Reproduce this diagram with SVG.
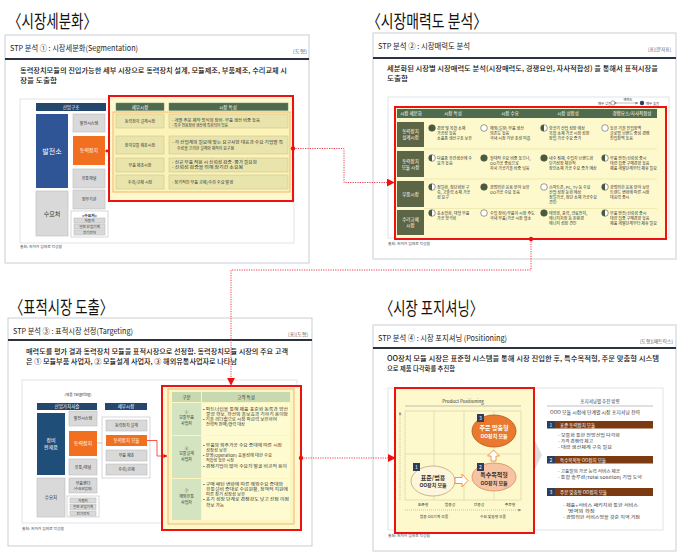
<svg xmlns="http://www.w3.org/2000/svg" width="678" height="553" viewBox="0 0 678 553">
<style>
text{font-family:"Noto Sans CJK KR","Noto Sans",sans-serif;}
.title{font-size:18px;fill:#111;}
.hd{font-size:8px;fill:#222;}
.tag{font-size:4.3px;fill:#555;}
.desc{font-size:7px;fill:#111;font-weight:500;}
.src{font-size:3.8px;fill:#444;}
.card{fill:#fff;stroke:#c9cdd5;stroke-width:1;}
.rule{stroke:#2b3343;stroke-width:2;}
.inner{fill:#fff;stroke:#d9dce2;stroke-width:0.8;}
.redbox{fill:#fdf9cc;stroke:#ee1111;stroke-width:2;}
.gbox{fill:#d9d9d9;stroke:#bdbdbd;stroke-width:0.6;}
.navy{fill:#24476b;}
.org{fill:#f07020;}
.wbox{fill:#fff;stroke:#bdbdbd;stroke-width:0.6;}
.c{text-anchor:middle;}
.wt{fill:#fff;}
.dk{fill:#333;}
.s4{font-size:4px;}
.s45{font-size:4.5px;}
.s5{font-size:5px;}
.s6{font-size:6px;}
.s7{font-size:7px;}
.gh{fill:#4e6b50;stroke:#6f8a70;stroke-width:0.5;}
.row{fill:#e8e4ac;stroke:#cfc790;stroke-width:0.6;}
.lab{fill:#5c6647;}
.cell{font-size:4px;fill:#333;}
.tg{fill:#d4e4c0;}
.ty{fill:#fefbd0;}
.tt{font-size:4px;fill:#333;}
.bar{fill:#7b3a12;}
.num{fill:#2c3e5c;}
.grid{stroke:#c9c4a0;stroke-width:0.5;fill:none;}
.dot{fill:none;stroke:#e8283c;stroke-width:0.9;stroke-dasharray:1.2 1.2;}
</style>
<defs>
<g id="hbE"><circle r="3.3" fill="#fff" stroke="#555" stroke-width="0.6"/></g>
<g id="hbF"><circle r="3.3" fill="#4a5a40" stroke="#4a5a40" stroke-width="0.6"/></g>
<g id="hbH"><circle r="3.3" fill="#fff" stroke="#555" stroke-width="0.6"/><path d="M0,-3.3 A3.3,3.3 0 0 0 0,3.3 Z" fill="#4a5a40"/></g>
<marker id="ah" viewBox="0 0 10 10" refX="9" refY="5" markerWidth="8" markerHeight="8" orient="auto" markerUnits="userSpaceOnUse"><path d="M0,0 L10,5 L0,10 Z" fill="#ee1111"/></marker>
<marker id="ahs" viewBox="0 0 10 10" refX="9" refY="5" markerWidth="4" markerHeight="4" orient="auto" markerUnits="userSpaceOnUse"><path d="M0,0 L10,5 L0,10 Z" fill="#ee1111"/></marker>
<marker id="ahg" viewBox="0 0 10 10" refX="9" refY="5" markerWidth="3" markerHeight="3" orient="auto" markerUnits="userSpaceOnUse"><path d="M0,0 L10,5 L0,10 Z" fill="#888"/></marker>
</defs>
<rect width="678" height="553" fill="#fff"/>

<!-- Panel 1 -->
<g id="panel-segmentation">
<text class="title" x="8" y="28" textLength="89" lengthAdjust="spacingAndGlyphs">〈시장세분화〉</text>
<rect class="card" x="5" y="35" width="304" height="228"/>
<text class="hd" x="10" y="51" textLength="128" lengthAdjust="spacingAndGlyphs">STP 분석 ① : 시장세분화(Segmentation)</text>
<text class="tag" x="293" y="53" textLength="14" lengthAdjust="spacingAndGlyphs">[도형]</text>
<line class="rule" x1="5" y1="59" x2="309" y2="59"/>
<text class="desc" x="20" y="73" textLength="267" lengthAdjust="spacingAndGlyphs">동력장치모듈의 진입가능한 세부 시장으로 동력장치 설계, 모듈제조, 부품제조, 수리교체 시</text>
<text class="desc" x="20" y="83" textLength="37" lengthAdjust="spacingAndGlyphs">장을 도출함</text>
<rect class="inner" x="20" y="99" width="274" height="144"/>
<text class="src" x="20" y="248" textLength="42" lengthAdjust="spacingAndGlyphs">출처: 저자가 임의로 작성함</text>
</g>
<g id="seg-industry">
<rect class="navy" x="36" y="103" width="70" height="8"/>
<text class="s45 wt c" x="71" y="108.6">산업구조</text>
<rect x="36" y="114" width="32" height="74" fill="#2f5597"/>
<text class="s7 wt c" x="52" y="153.5">발전소</text>
<rect class="gbox" x="73" y="114" width="32" height="18"/>
<text class="s4 dk c" x="89" y="124.5">발전시스템</text>
<rect class="org" x="73" y="136" width="32" height="29"/>
<text class="s5 wt c" x="89" y="152">동력장치</text>
<rect class="gbox" x="73" y="169" width="32" height="19"/>
<text class="s4 dk c" x="89" y="180">유통채널</text>
<rect class="gbox" x="36" y="191" width="32" height="45"/>
<text class="s6 dk c" x="52" y="215.5">수요처</text>
<rect class="gbox" x="73" y="190" width="32" height="19"/>
<text class="s4 dk c" x="89" y="201">정부기관</text>
<rect class="wbox" x="71" y="211" width="37" height="26"/>
<text class="dk c" x="89.5" y="216.5" style="font-size:3.8px;font-weight:bold">&lt;수요처&gt;</text>
<rect class="gbox" x="74" y="218" width="31" height="5"/>
<text class="dk c" x="89.5" y="221.9" style="font-size:3.6px">자동차</text>
<rect class="gbox" x="74" y="224" width="31" height="5"/>
<text class="dk c" x="89.5" y="227.9" style="font-size:3.6px">일반 산업기계</text>
<rect class="gbox" x="74" y="230" width="31" height="5"/>
<text class="dk c" x="89.5" y="233.9" style="font-size:3.6px">전기전자</text>
</g>
<g id="seg-submarkets">
<rect class="redbox" x="109" y="96" width="184" height="105"/>
<rect class="gh" x="116" y="103" width="48" height="7.5"/>
<text class="s45 wt c" x="140" y="108.6">세부시장</text>
<rect class="gh" x="169" y="103" width="119" height="7.5"/>
<text class="s45 wt c" x="228" y="108.6">시장 특성</text>
<rect x="113" y="112" width="177" height="80" fill="#fbf3b8" stroke="#f5b36b" stroke-width="1"/>
<rect class="row" x="116" y="114" width="48" height="14"/>
<rect class="row" x="169" y="114" width="119" height="14"/>
<text class="s4 dk c" x="140" y="122.5">동력장치 설계시장</text>
<text class="s4 dk" x="172" y="122" textLength="88" lengthAdjust="spacingAndGlyphs">-  개별 주문 제작 방식의 장비·부품 생산 비중 높음</text>
<text class="s4 dk" x="172" y="127.3" textLength="56" lengthAdjust="spacingAndGlyphs">-  특수 전용장비 생산에 특화되어 있음</text>
<rect class="row" x="116" y="136" width="48" height="18"/>
<rect class="row" x="169" y="136" width="119" height="18"/>
<text class="s4 dk c" x="140" y="146.5">장치모듈 제조시장</text>
<text class="s4 dk" x="172" y="144.3" textLength="111" lengthAdjust="spacingAndGlyphs">-  각 산업계의 필요에 맞는 요구사항 대응과 수요 기업별 특</text>
<text class="s4 dk" x="177" y="149.8" textLength="57" lengthAdjust="spacingAndGlyphs">수성을 고려한 설계와 제작이 요구됨</text>
<rect class="row" x="116" y="158" width="48" height="14"/>
<rect class="row" x="169" y="158" width="119" height="14"/>
<text class="s4 dk c" x="140" y="166.5">부품 제조시장</text>
<text class="s4 dk" x="172" y="164" textLength="85" lengthAdjust="spacingAndGlyphs">-  신규 부품 적용 시 신뢰성 검증·평가 필요함</text>
<text class="s4 dk" x="172" y="169.3" textLength="71" lengthAdjust="spacingAndGlyphs">-  신뢰성 검증을 위해 장기간 소요됨</text>
<rect class="row" x="116" y="175" width="48" height="14"/>
<rect class="row" x="169" y="175" width="119" height="14"/>
<text class="s4 dk c" x="140" y="183.5">수리/교체 시장</text>
<text class="s4 dk" x="172" y="183.5" textLength="61" lengthAdjust="spacingAndGlyphs">-  정기적인 부품 교체/수리 수요 발생</text>
</g>

<!-- Panel 2 -->
<g id="panel-attractiveness">
<text class="title" x="367" y="28" textLength="120" lengthAdjust="spacingAndGlyphs">〈시장매력도 분석〉</text>
<rect class="card" x="373" y="33" width="303" height="226"/>
<text class="hd" x="378" y="49" textLength="92" lengthAdjust="spacingAndGlyphs">STP 분석 ② : 시장매력도 분석</text>
<text class="tag" x="648" y="51" textLength="23" lengthAdjust="spacingAndGlyphs">[표][문자표]</text>
<line class="rule" x1="373" y1="58" x2="676" y2="58"/>
<text class="desc" x="387" y="71" textLength="271" lengthAdjust="spacingAndGlyphs">세분화된 시장별 시장매력도 분석(시장매력도, 경쟁요인, 자사적합성) 을 통해서 표적시장을</text>
<text class="desc" x="387" y="81" textLength="21" lengthAdjust="spacingAndGlyphs">도출함</text>
<rect class="inner" x="388" y="97" width="281" height="141"/>
<text class="src" x="388" y="245" textLength="42" lengthAdjust="spacingAndGlyphs">출처: 저자가 임의로 작성함</text>
<text class="dk" x="598" y="104.5" style="font-size:3.4px">매우 낮음</text>
<circle cx="613" cy="103" r="2.2" fill="#fff" stroke="#555" stroke-width="0.5"/>
<line x1="617" y1="103" x2="638" y2="103" stroke="#555" stroke-width="0.4" marker-start="url(#ahg)" marker-end="url(#ahg)"/>
<text class="dk c" x="628" y="100.5" style="font-size:3.2px">매력도</text>
<circle cx="642" cy="103" r="2.2" fill="#2d3f5c"/>
<text class="dk" x="646" y="104.5" style="font-size:3.4px">매우 높음</text>
</g>
<g id="attr-table">
<rect class="redbox" x="395" y="107" width="271" height="132"/>
<rect x="397" y="109" width="260" height="9" fill="#4f6b4f"/>
<text class="s45 wt c" x="411" y="115.3">시장 세분화</text>
<text class="s45 wt c" x="453" y="115.3">시장 특성</text>
<text class="s45 wt c" x="510" y="115.3">시장 수요</text>
<text class="s45 wt c" x="568" y="115.3">시장 성장성</text>
<text class="s45 wt c" x="632" y="115.3">경쟁요소/자사적합성</text>
<g stroke="#e6df9c" stroke-width="0.6"><line x1="424" y1="149" x2="657" y2="149"/><line x1="424" y1="179" x2="657" y2="179"/><line x1="424" y1="208.5" x2="657" y2="208.5"/></g>
<rect class="lab" x="397" y="122" width="27" height="25"/>
<text class="s45 wt c" x="410.5" y="133">동력장치</text><text class="s45 wt c" x="410.5" y="139">설계시장</text>
<rect class="lab" x="397" y="151" width="27" height="26"/>
<text class="s45 wt c" x="410.5" y="162.5">동력장치</text><text class="s45 wt c" x="410.5" y="168.5">모듈 시장</text>
<rect class="lab" x="397" y="181" width="27" height="26"/>
<text class="s45 wt c" x="410.5" y="195.5">부품시장</text>
<rect class="lab" x="397" y="210" width="27" height="25"/>
<text class="s45 wt c" x="410.5" y="221">수리교체</text><text class="s45 wt c" x="410.5" y="227">시장</text>
<use href="#hbF" x="432" y="128"/><use href="#hbE" x="484" y="128"/><use href="#hbH" x="544" y="128"/><use href="#hbE" x="605" y="128"/>
<text class="cell" x="437" y="129.5">경량 및 복합 소재</text><text class="cell" x="437" y="134.5">가공성 높음</text><text class="cell" x="437" y="139.5">소품종 생산구조 보유</text>
<text class="cell" x="490" y="129.5">해외(일본) 부품 생산</text><text class="cell" x="490" y="134.5">의존도 높음</text><text class="cell" x="490" y="139.5">국내 시장 기반 조성 미흡</text>
<text class="cell" x="549" y="129.5">항공기 산업 성장 예상</text><text class="cell" x="549" y="134.5">복합 소재 가공 시장 성장</text><text class="cell" x="549" y="139.5">장입 가공 수요 증가</text>
<text class="cell" x="610" y="129.5">높은 기술 진입장벽</text><text class="cell" x="610" y="134.5">글로벌 브랜드 중심 경쟁</text><text class="cell" x="610" y="139.5">진입장벽 높음</text>
<use href="#hbH" x="432" y="158"/><use href="#hbF" x="484" y="158"/><use href="#hbF" x="544" y="158"/><use href="#hbH" x="605" y="158"/>
<text class="cell" x="437" y="159.5">다품종 유연생산에 수</text><text class="cell" x="437" y="164.5">요가 높음</text>
<text class="cell" x="490" y="159.5">절대적 수요 비중 높으나,</text><text class="cell" x="490" y="164.5">OO가공 중심으로</text><text class="cell" x="490" y="169.5">자사 가공기술 비중 낮음</text>
<text class="cell" x="549" y="159.5">내수 침체, 수입차 브랜드화</text><text class="cell" x="549" y="164.5">단기성장 제한적</text><text class="cell" x="549" y="169.5">장인소재 가공 수요 증가 예상</text>
<text class="cell" x="610" y="159.5">부품 안전/신뢰성 중시</text><text class="cell" x="610" y="164.5">대량 집중 구매경향 높음</text><text class="cell" x="610" y="169.5">제품 개발단계부터 제휴 필요</text>
<use href="#hbH" x="432" y="187"/><use href="#hbF" x="484" y="187"/><use href="#hbE" x="544" y="187"/><use href="#hbH" x="605" y="187"/>
<text class="cell" x="437" y="188.5">정밀화, 첨단화된 구</text><text class="cell" x="437" y="193.5">축, 고출력 소재 가공</text><text class="cell" x="437" y="198.5">성 요구</text>
<text class="cell" x="490" y="188.5">광범위한 응용 분야 보유</text><text class="cell" x="490" y="193.5">OO가공 수요 높음</text>
<text class="cell" x="549" y="188.5">스마트폰, PC, TV 등 수요</text><text class="cell" x="549" y="193.5">산업 성장 둔화 예상</text><text class="cell" x="549" y="198.5">정밀가공, 첨단 소재 가공수요</text><text class="cell" x="549" y="203.5">견인</text>
<text class="cell" x="610" y="188.5">광범위한 응용 분야 보유</text><text class="cell" x="610" y="193.5">트렌드 변화에 따른 시장</text><text class="cell" x="610" y="198.5">대응력 중시</text>
<use href="#hbH" x="432" y="213"/><use href="#hbE" x="484" y="213"/><use href="#hbF" x="544" y="213"/><use href="#hbH" x="605" y="213"/>
<text class="cell" x="437" y="214.5">초소형화, 대형 부품</text><text class="cell" x="437" y="219.5">가공 양극화</text>
<text class="cell" x="490" y="214.5">수입 장비/부품이 시장 주도</text><text class="cell" x="490" y="219.5">국내 부품/가공 시장 협소</text>
<text class="cell" x="549" y="214.5">태양광, 풍력, 연료전지,</text><text class="cell" x="549" y="219.5">에너지저장 등 친환경</text><text class="cell" x="549" y="224.5">에너지 성장 견인</text>
<text class="cell" x="610" y="214.5">부품 안전/신뢰성 중시</text><text class="cell" x="610" y="219.5">대량 집중 구매경향 높음</text><text class="cell" x="610" y="224.5">제품 개발단계부터 제휴 필요</text>
</g>

<!-- Panel 3 -->
<g id="panel-targeting">
<text class="title" x="10" y="314" textLength="103" lengthAdjust="spacingAndGlyphs">〈표적시장 도출〉</text>
<rect class="card" x="8" y="318" width="304" height="228"/>
<text class="hd" x="13" y="334" textLength="120" lengthAdjust="spacingAndGlyphs">STP 분석 ③ : 표적시장 선정(Targeting)</text>
<text class="tag" x="288" y="336" textLength="20" lengthAdjust="spacingAndGlyphs">[표][도형]</text>
<line class="rule" x1="8" y1="340" x2="312" y2="340"/>
<text class="desc" x="26" y="354" textLength="262" lengthAdjust="spacingAndGlyphs">매력도를 평가 결과 동력장치 모듈을 표적시장으로 선정함. 동력장치모듈 시장의 주요 고객</text>
<text class="desc" x="26" y="364" textLength="211" lengthAdjust="spacingAndGlyphs">은 ① 모듈부품 사업자, ② 모듈설계 사업자, ③ 해외유통사업자로 나타남</text>
<rect class="inner" x="22" y="380" width="275" height="143"/>
<text class="src" x="22" y="530" textLength="42" lengthAdjust="spacingAndGlyphs">출처: 저자가 임의로 작성함</text>
</g>
<g id="tgt-valuechain">
<text class="dk c" x="78" y="395.5" style="font-size:3.8px">(제품 Targeting)</text>
<rect class="navy" x="37" y="403" width="60" height="7"/>
<text class="s45 wt c" x="67" y="408.2">산업가치사슬</text>
<rect x="37" y="413" width="28" height="62" fill="#1f4e79"/>
<text class="s5 wt c" x="51" y="442">장비</text><text class="s5 wt c" x="51" y="448.5">완제품</text>
<rect class="gbox" x="69" y="411" width="28" height="15"/>
<text class="s4 dk c" x="83" y="420">발전시스템</text>
<rect class="org" x="69" y="431" width="28" height="25"/>
<text class="s5 wt c" x="83" y="445">동력장치</text>
<rect class="gbox" x="69" y="459" width="28" height="16"/>
<text class="s4 dk c" x="83" y="468.5">유통/채널</text>
<rect class="gbox" x="37" y="478" width="28" height="39"/>
<text class="s45 dk c" x="51" y="499">수요처</text>
<rect class="gbox" x="69" y="478" width="28" height="15"/>
<text class="s4 dk c" x="83" y="484.5">부품벤더</text><text class="dk c" x="83" y="490" style="font-size:3.5px">(수요산업체)</text>
<rect class="wbox" x="67" y="496" width="32" height="21"/>
<rect class="gbox" x="70" y="498" width="26" height="5"/>
<text class="dk c" x="83" y="501.9" style="font-size:3.5px">자동차</text>
<rect class="gbox" x="70" y="504.5" width="26" height="5"/>
<text class="dk c" x="83" y="508.4" style="font-size:3.5px">일반 산업기계</text>
<rect class="gbox" x="70" y="511" width="26" height="5"/>
<text class="dk c" x="83" y="514.9" style="font-size:3.5px">전기전자</text>
</g>
<g id="tgt-submarkets">
<rect class="navy" x="105" y="403" width="42" height="7"/>
<text class="s45 wt c" x="126" y="408.2">세부시장</text>
<rect class="wbox" x="102" y="417" width="48" height="61"/>
<rect class="gbox" x="106" y="420" width="41" height="11"/>
<text class="s4 dk c" x="126.5" y="427">동력장치 설계</text>
<rect class="org" x="106" y="435" width="41" height="11"/>
<text class="s45 wt c" x="126.5" y="442">동력장치 모듈</text>
<rect class="gbox" x="106" y="450" width="41" height="11"/>
<text class="s4 dk c" x="126.5" y="457">부품 제조</text>
<rect class="gbox" x="106" y="464" width="41" height="11"/>
<text class="s4 dk c" x="126.5" y="471">수리/교체</text>
</g>
<g id="tgt-table">
<rect class="redbox" x="162" y="386" width="139" height="144"/>
<rect x="168" y="389" width="126" height="135" fill="#fcf5c0" stroke="#f4a460" stroke-width="0.8"/>
<rect x="172" y="392" width="29" height="10" fill="#c6d9b0"/>
<rect x="202" y="392" width="88" height="10" fill="#c6d9b0"/>
<text class="s45 dk c" x="186.5" y="398.8">구분</text>
<text class="s45 dk c" x="246" y="398.8">고객 특성</text>
<rect class="tg" x="172" y="403" width="29" height="32"/>
<rect class="ty" x="202" y="403" width="88" height="32"/>
<rect class="tg" x="172" y="436" width="29" height="42"/>
<rect class="ty" x="202" y="436" width="88" height="42"/>
<rect class="tg" x="172" y="479" width="29" height="41"/>
<rect class="ty" x="202" y="479" width="88" height="41"/>
<text class="tt c" x="186.5" y="413.5">①</text><text class="tt c" x="186.5" y="419">모듈부품</text><text class="tt c" x="186.5" y="424.5">사업자</text>
<text class="tt c" x="186.5" y="449.5">②</text><text class="tt c" x="186.5" y="455">모듈설계</text><text class="tt c" x="186.5" y="460.5">사업자</text>
<text class="tt c" x="186.5" y="491.5">③</text><text class="tt c" x="186.5" y="497.5">해외유통</text><text class="tt c" x="186.5" y="503.5">사업자</text>
<text class="tt" x="203" y="410.5" textLength="85" lengthAdjust="spacingAndGlyphs">• 파트너십을 통해 제품 표준화 동록과 양산</text>
<text class="tt" x="206" y="415.5" textLength="82" lengthAdjust="spacingAndGlyphs">물량 확보, 확산의 홍보효과 기하기 용이함</text>
<text class="tt" x="203" y="420.5" textLength="74" lengthAdjust="spacingAndGlyphs">• 기술 리더쉽으로 시장 파급력 보유하여</text>
<text class="tt" x="206" y="425.5" textLength="39" lengthAdjust="spacingAndGlyphs">전략적 판매/협력 대상</text>
<text class="tt" x="203" y="447" textLength="79" lengthAdjust="spacingAndGlyphs">• 부품의 외주가공 수요 증대에 따른 시장</text>
<text class="tt" x="206" y="452" textLength="21" lengthAdjust="spacingAndGlyphs">성장성 보유</text>
<text class="tt" x="203" y="457" textLength="69" lengthAdjust="spacingAndGlyphs">• 운영(Operation) 효율성에 대한 수요</text>
<text class="tt" x="206" y="462" textLength="28" lengthAdjust="spacingAndGlyphs">적합성 높은 시장</text>
<text class="tt" x="203" y="467.5" textLength="84" lengthAdjust="spacingAndGlyphs">• 경쟁기업이 많아 수요처 발굴 비교적 용이</text>
<text class="tt" x="203" y="486" textLength="80" lengthAdjust="spacingAndGlyphs">• 구매 패턴 변화에 따른 해외수요 증대와</text>
<text class="tt" x="206" y="491" textLength="82" lengthAdjust="spacingAndGlyphs">유통설비 증대로 수급원활, 정책적 지원에</text>
<text class="tt" x="206" y="496" textLength="39" lengthAdjust="spacingAndGlyphs">따른 장기 성장성 보유</text>
<text class="tt" x="203" y="501.3" textLength="86" lengthAdjust="spacingAndGlyphs">• 초기 성장 단계로 경쟁강도 낮고 선점 이점</text>
<text class="tt" x="206" y="506.5" textLength="18" lengthAdjust="spacingAndGlyphs">확보 가능</text>
</g>

<!-- Panel 4 -->
<g id="panel-positioning">
<text class="title" x="380" y="315" textLength="103" lengthAdjust="spacingAndGlyphs">〈시장 포지셔닝〉</text>
<rect class="card" x="373" y="325" width="303" height="226"/>
<text class="hd" x="378" y="341" textLength="129" lengthAdjust="spacingAndGlyphs">STP 분석 ④ : 시장 포지셔닝 (Positioning)</text>
<text class="tag" x="640" y="343" textLength="33" lengthAdjust="spacingAndGlyphs">[도형][매트릭스]</text>
<line class="rule" x1="373" y1="348" x2="676" y2="348"/>
<text class="desc" x="387" y="361" textLength="272" lengthAdjust="spacingAndGlyphs">OO장치 모듈 시장은 표준형 시스템을 통해 시장 진입한 후, 특수목적형, 주문 맞춤형 시스템</text>
<text class="desc" x="387" y="371" textLength="68" lengthAdjust="spacingAndGlyphs">으로 제품 다각화를 추진함</text>
<rect class="inner" x="388" y="388" width="275" height="142"/>
<text class="src" x="388" y="537" textLength="42" lengthAdjust="spacingAndGlyphs">출처: 저자가 임의로 작성함</text>
<polygon points="526,423 542,455 526,487" fill="#dedede"/>
</g>
<g id="pos-matrix">
<rect class="redbox" x="395" y="388" width="139" height="145"/>
<text class="s45 dk c" x="463" y="403">Product Positioning</text>
<line x1="405" y1="406" x2="521" y2="406" stroke="#999" stroke-width="0.6"/>
<rect class="grid" x="405" y="411" width="116" height="89"/>
<line class="grid" x1="434" y1="411" x2="434" y2="500"/>
<line class="grid" x1="464" y1="411" x2="464" y2="500"/>
<line class="grid" x1="494" y1="411" x2="494" y2="500"/>
<line class="grid" x1="405" y1="454" x2="521" y2="454"/>
<line x1="400" y1="500" x2="400" y2="412" stroke="#888" stroke-width="0.5" stroke-dasharray="1 1" marker-end="url(#ahg)"/>
<line x1="405" y1="510" x2="521" y2="510" stroke="#888" stroke-width="0.5" stroke-dasharray="1 1" marker-end="url(#ahg)"/>
<text class="dk c" x="423" y="506" style="font-size:3.8px">표준형</text>
<text class="dk c" x="450" y="506" style="font-size:3.8px">범용성</text>
<text class="dk c" x="479" y="506" style="font-size:3.8px">전용성</text>
<text class="dk c" x="510" y="506" style="font-size:3.8px">주문형</text>
<text class="dk c" x="434" y="518" style="font-size:3.8px">범용 OO기계 부품</text>
<text class="dk c" x="493" y="518" style="font-size:3.8px">수요 맞춤형 부품</text>
</g>
<g id="pos-node1">
<ellipse cx="433" cy="481" rx="22" ry="15" fill="#fdf5dc" stroke="#bda67a" stroke-width="0.8"/>
<text class="s6 dk c" x="433" y="479.5" style="font-weight:bold">표준/범용</text>
<text class="s5 dk c" x="433" y="486.5" style="font-weight:bold">OO장치 모듈</text>
<rect class="num" x="413" y="463" width="7" height="8"/>
<text class="s5 wt c" x="416.5" y="469">1</text>
</g>
<g id="pos-node2">
<ellipse cx="494" cy="477" rx="22" ry="14" fill="#f7c4a3" stroke="#d98a5e" stroke-width="0.8"/>
<text class="s6 dk c" x="494" y="477" style="font-weight:bold">특수목적형</text>
<text class="s5 dk c" x="494" y="484.5" style="font-weight:bold">OO장치 모듈</text>
<rect class="num" x="477" y="463" width="7" height="8"/>
<text class="s5 wt c" x="480.5" y="469">2</text>
</g>
<g id="pos-node3">
<ellipse cx="494" cy="431" rx="22" ry="16" fill="#e8792f" stroke="#b8561c" stroke-width="0.8"/>
<text class="s6 wt c" x="494" y="430" style="font-weight:bold">주문 맞춤형</text>
<text class="s5 wt c" x="494" y="438" style="font-weight:bold">OO장치 모듈</text>
<rect class="num" x="477" y="414" width="7" height="8"/>
<text class="s5 wt c" x="480.5" y="420">3</text>
</g>
<g id="pos-arrows">
<polygon points="455,477.5 462,477.5 462,474 468,480.5 462,487 462,483.5 455,483.5" fill="#fff" stroke="#f08a3c" stroke-width="0.9"/>
<polygon points="491,461 491,456 487.5,456 493.5,450 499.5,456 496,456 496,461" fill="#fff" stroke="#f08a3c" stroke-width="0.9"/>
</g>
<g id="pos-strategy">
<text class="s45 dk c" x="600" y="403">포지셔닝별 추진 방향</text>
<line x1="547" y1="406" x2="653" y2="406" stroke="#999" stroke-width="0.6"/>
<text class="dk" x="550" y="414" style="font-size:4.5px" textLength="90" lengthAdjust="spacingAndGlyphs">OOO 모듈 시장에 단계별 시장 포지셔닝 전략</text>
<rect class="num" x="547" y="421" width="8" height="7.5"/>
<text class="s5 wt c" x="551" y="426.8">1</text>
<rect class="bar" x="555" y="421" width="98" height="7.5"/>
<text class="s45 wt" x="560" y="426.5">표준 동력장치 모듈</text>
<text class="tt" x="558" y="436.5" textLength="62" lengthAdjust="spacingAndGlyphs">-  모듈화 통한 전방산업 다각화</text>
<text class="tt" x="558" y="442.5" textLength="35" lengthAdjust="spacingAndGlyphs">-  가격 경쟁력 제고</text>
<text class="tt" x="558" y="448.5" textLength="54" lengthAdjust="spacingAndGlyphs">-  대량 생산체계 구축 필요</text>
<rect class="num" x="547" y="456" width="8" height="7.5"/>
<text class="s5 wt c" x="551" y="461.8">2</text>
<rect class="bar" x="555" y="456" width="98" height="7.5"/>
<text class="s45 wt" x="560" y="461.5">특수목적형 OO장치 모듈</text>
<text class="tt" x="558" y="472.5" textLength="62" lengthAdjust="spacingAndGlyphs">-  고품질의 가공 능력 서비스 제공</text>
<text class="tt" x="558" y="478.5" textLength="84" lengthAdjust="spacingAndGlyphs">-  통합 솔루션(Total Solution) 기업 도약</text>
<rect class="num" x="547" y="488" width="8" height="8"/>
<text class="s5 wt c" x="551" y="494">3</text>
<rect class="bar" x="555" y="488" width="98" height="8"/>
<text class="s45 wt" x="560" y="493.7">주문 맞춤형 OO장치 모듈</text>
<text class="tt" x="563" y="506.5" textLength="75" lengthAdjust="spacingAndGlyphs">-  제품+서비스 패키지화 통한 서비스</text>
<text class="tt" x="568" y="512.5" textLength="27" lengthAdjust="spacingAndGlyphs">영역의 확장</text>
<text class="tt" x="563" y="518.5" textLength="77" lengthAdjust="spacingAndGlyphs">-  광범위한 서비스망을 갖춘 지역 거점</text>
</g>

<!-- Connectors -->
<g id="connectors">
<line x1="105" y1="151" x2="110" y2="151" stroke="#ee1111" stroke-width="0.8"/>
<circle cx="107" cy="151" r="1.4" fill="#ee1111"/>
<path class="dot" d="M293,148.5 H344 V182.5 H394" marker-end="url(#ah)"/>
<circle cx="293" cy="148.5" r="2.2" fill="#ee1111"/>
<path class="dot" d="M531,239 V270 H231 V385" marker-end="url(#ah)"/>
<circle cx="531" cy="239" r="2.2" fill="#ee1111"/>
<line x1="97" y1="443" x2="102" y2="443" stroke="#aaa" stroke-width="0.6"/>
<path d="M147,440.5 H157 V456 H167" fill="none" stroke="#ee1111" stroke-width="0.7" marker-end="url(#ahs)"/>
<path class="dot" d="M301,458 H395" marker-end="url(#ah)"/>
<circle cx="301" cy="458" r="2.2" fill="#ee1111"/>
</g>
</svg>
